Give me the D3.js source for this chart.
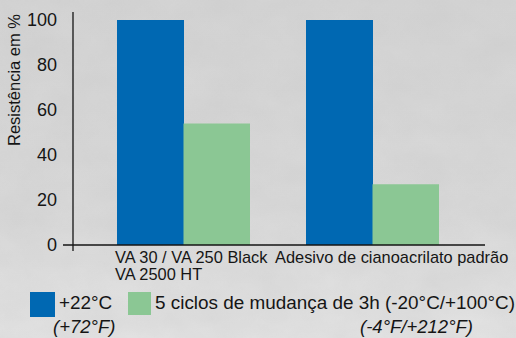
<!DOCTYPE html>
<html><head><meta charset="utf-8">
<script src="https://cdn.jsdelivr.net/npm/d3@7"></script>
<style>html,body{margin:0;padding:0;background:#d8d8d8;}svg{display:block;}</style>
</head><body>
<script>
const categories = [["VA 30 / VA 250 Black","VA 2500 HT"],["Adesivo de cianoacrilato padrão"]];
const categoryKeys = ["VA","Adesivo"];
const seriesNames = ["+22°C","5 ciclos de mudança de 3h (-20°C/+100°C)"];
const seriesSub = ["(+72°F)","(-4°F/+212°F)"];
const seriesValues = [[100, 100],[54, 27]];
const yTicks = [0,20,40,60,80,100];
const colors = ["#0068b2","#8bc794"];

const W=516,H=338;
const svg=d3.select("body").append("svg").attr("width",W).attr("height",H);
const defs=svg.append("defs");
const f=defs.append("filter").attr("id","noise").attr("x",0).attr("y",0).attr("width","100%").attr("height","100%");
f.append("feTurbulence").attr("type","fractalNoise").attr("baseFrequency","0.02 0.03").attr("numOctaves",4).attr("seed",3).attr("result","t");
f.append("feColorMatrix").attr("type","matrix").attr("values","0 0 0 0 0.5  0 0 0 0 0.5  0 0 0 0 0.5  0.6 0 0 0 -0.1");
const g0=defs.append("linearGradient").attr("id","bg").attr("x1",0).attr("y1",0).attr("x2",0).attr("y2",1);
g0.append("stop").attr("offset","0").attr("stop-color","#d4d4d4");
g0.append("stop").attr("offset","0.6").attr("stop-color","#d8d8d8");
g0.append("stop").attr("offset","1").attr("stop-color","#e2e2e2");
svg.append("rect").attr("width",W).attr("height",H).attr("fill","url(#bg)");
svg.append("rect").attr("width",W).attr("height",H).attr("filter","url(#noise)").attr("opacity",0.45);

const font="'Liberation Sans', Arial, Helvetica, sans-serif";
const ink="#151515";
const y=d3.scaleLinear().domain([0,100]).range([245,20]);
const x0=d3.scaleBand().domain(categoryKeys).range([89,467]).paddingInner(56/189).paddingOuter(28/189);
const x1=d3.scaleBand().domain([0,1]).range([0,x0.bandwidth()]);

// bars
seriesValues.forEach((vals,si)=>{
  svg.append("g").selectAll("rect").data(vals).join("rect")
    .attr("x",(d,i)=>x0(categoryKeys[i])+x1(si))
    .attr("width",x1.bandwidth()+(si===0?0.5:0))
    .attr("y",d=>y(d)).attr("height",d=>y(0)-y(d))
    .attr("fill",colors[si]);
});

// y axis
const ya=svg.append("g").attr("transform","translate(73,0)")
  .call(d3.axisLeft(y).tickValues(yTicks).tickSize(0).tickPadding(16));
ya.select(".domain").remove();
ya.selectAll("text").attr("font-family",font).attr("font-size",18).attr("fill",ink);
svg.append("line").attr("x1",73).attr("x2",73).attr("y1",12).attr("y2",251).attr("stroke",ink).attr("stroke-width",1.3);
svg.append("line").attr("x1",63).attr("x2",485).attr("y1",y(0)).attr("y2",y(0)).attr("stroke",ink).attr("stroke-width",1.3);

svg.append("text").attr("transform","translate(20,80) rotate(-90)").attr("text-anchor","middle")
  .attr("font-family",font).attr("font-size",16.5).attr("fill",ink).text("Resistência em %");

// x labels
const lx=[115,275];
categories.forEach((lines,i)=>{
  const t=svg.append("text").attr("x",lx[i]).attr("y",263)
    .attr("font-family",font).attr("font-size",16.4).attr("fill",ink);
  lines.forEach((l,j)=>t.append("tspan").attr("x",lx[i]).attr("dy",j===0?0:16.5).text(l));
});

// legend
const leg=[{x:30,w:25,tx:59},{x:128,w:23,tx:155}];
seriesNames.forEach((n,i)=>{
  svg.append("rect").attr("x",leg[i].x).attr("y",292).attr("width",leg[i].w).attr("height",i===0?25:23).attr("fill",colors[i]);
  svg.append("text").attr("x",leg[i].tx).attr("y",309).attr("font-family",font).attr("font-size",18.9).attr("fill",ink).text(n);
});
svg.append("text").attr("x",53).attr("y",333).attr("font-family",font).attr("font-size",18.5).attr("font-style","italic").attr("fill",ink).text(seriesSub[0]);
svg.append("text").attr("x",473).attr("y",333).attr("text-anchor","end").attr("font-family",font).attr("font-size",18.5).attr("font-style","italic").attr("fill",ink).text(seriesSub[1]);
</script>
</body></html>
